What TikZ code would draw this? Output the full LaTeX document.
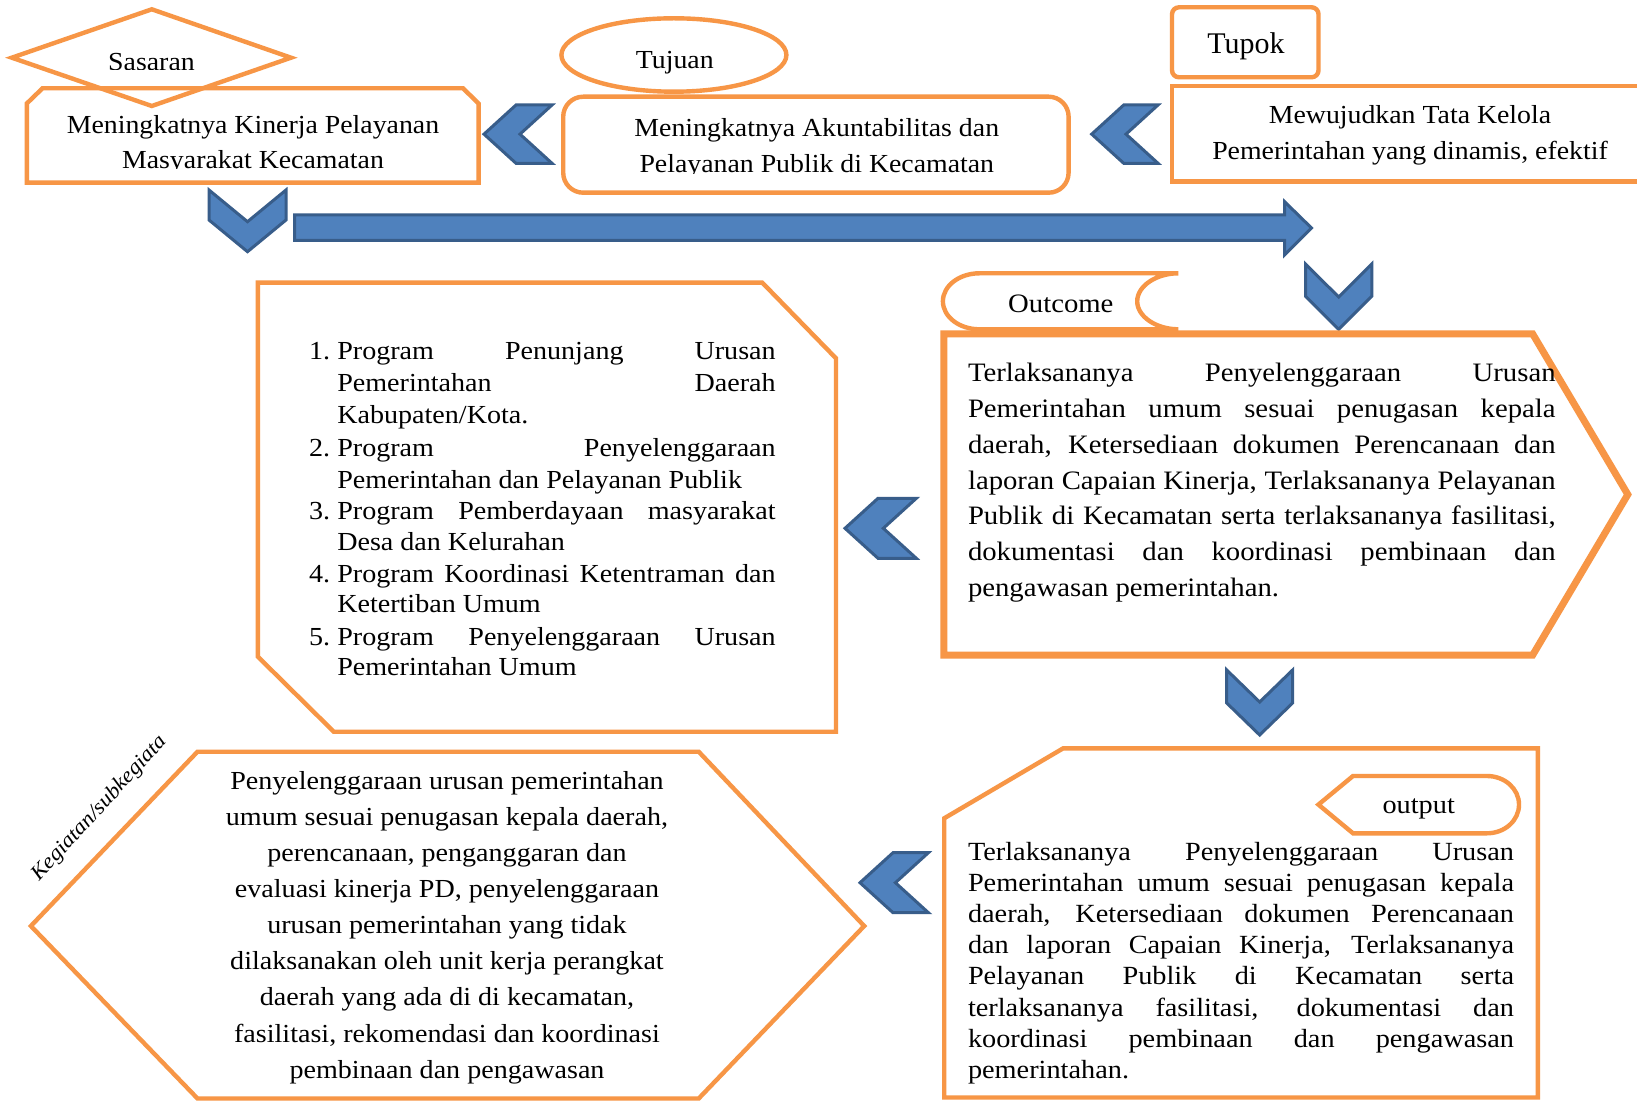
\documentclass[tikz,border=0pt]{standalone}
\usepackage{fontspec}
\setmainfont{Liberation Serif}
\newfontfamily\fTopF[FakeStretch=1.07]{Liberation Serif}
\newfontfamily\fLowF[FakeStretch=1.08]{Liberation Serif}
\newcommand\sTop{\fTopF\fontsize{13}{15}\selectfont}
\newcommand\sTup{\fontsize{15}{18}\selectfont}
\newcommand\sProg{\fLowF\fontsize{13}{15}\selectfont}
\newcommand\sOut{\fLowF\fontsize{13.3}{16}\selectfont}
\newcommand\sOp{\fLowF\fontsize{13.1}{16}\selectfont}
\newcommand\sHex{\fLowF\fontsize{13}{16}\selectfont}
\newcommand\sRot{\fLowF\itshape\fontsize{10.6}{12}\selectfont}
\definecolor{org}{HTML}{F79646}
\definecolor{bfill}{HTML}{4F81BD}
\definecolor{bline}{HTML}{385D8A}
\newcommand\jlin[5]{\node[txt,anchor=base west] (#1) at (#2,#3) {\makebox[#4][s]{#5}};}
\newcommand\plin[4]{\node[txt,anchor=base west] (#1) at (#2,#3) {#4};}
\newcommand\mychevL[5]{\draw[chev] (#1,{(#2+#4)/2}) -- ({#1+#5},#2) -- (#3,#2) -- ({#3-#5},{(#2+#4)/2}) -- (#3,#4) -- ({#1+#5},#4) -- cycle;}
\newcommand\mychevD[5]{\draw[chev] (#1,#2) -- ({(#1+#3)/2},{#2+#5}) -- (#3,#2) -- (#3,{#4-#5}) -- ({(#1+#3)/2},#4) -- (#1,{#4-#5}) -- cycle;}
\begin{document}
\begin{tikzpicture}[x=0.5pt,y=-0.5pt,
  obox/.style={draw=org,line width=2.2pt,line join=miter},
  chev/.style={fill=bfill,draw=bline,line width=1.5pt,line join=miter},
  txt/.style={inner sep=0pt,outer sep=0pt,text=black}]
\clip (0,0) rectangle (1637,1101);
\fill[white] (0,0) rectangle (1637,1101);

% ---------- top row shapes ----------
\draw[obox] (26.8,103.5) -- (42.5,88.3) -- (463,88.3) -- (478.6,103.5) -- (478.6,182.7) -- (26.8,182.7) -- cycle;
\draw[obox] (11.8,57.7) -- (151.8,9.3) -- (291,57.7) -- (151.8,106) -- cycle;
\draw[obox] (673.9,55) ellipse [x radius=56.25pt, y radius=18.35pt];
\draw[obox,rounded corners=10pt] (563.2,96.7) rectangle (1068.6,192.7);
\draw[obox,rounded corners=3.5pt] (1172,7.3) rectangle (1318.5,77.3);
\draw[obox] (1172,86) rectangle (1660,181.7);

% chevrons
\mychevL{484}{105}{552}{163.3}{32}
\mychevL{1091.7}{105}{1158}{163.3}{32}
\mychevD{209}{190}{286}{251.7}{31.7}
\mychevD{1305.5}{264}{1371.8}{329.3}{33}
\mychevL{845}{498.3}{916.3}{558.3}{33}
\mychevD{1226.7}{670}{1292.6}{735}{32}
\mychevL{860}{852.7}{928.4}{912.7}{33}

% big arrow
\draw[chev] (294.6,215) -- (1284.6,215) -- (1284.6,201.7) -- (1311.5,228) -- (1284.6,255) -- (1284.6,240.5) -- (294.6,240.5) -- cycle;

% ---------- middle shapes ----------
\draw[obox] (257.9,282.7) -- (762.3,282.7) -- (836,358.3) -- (836,731.7) -- (333.75,731.7) -- (257.9,656.7) -- cycle;
\draw[obox] (979.4,273.3) -- (1178.3,273.3)
  .. controls (1156.6,273.3) and (1137.2,285.8) .. (1137.2,301.3)
  .. controls (1137.2,316.8) and (1156.6,329.3) .. (1178.3,329.3)
  -- (979.4,329.3)
  .. controls (959.3,329.3) and (942.9,316.8) .. (942.9,301.3)
  .. controls (942.9,285.8) and (959.3,273.3) .. (979.4,273.3) -- cycle;
\draw[obox,line width=3.5pt] (943.8,334) -- (1532.7,334) -- (1627.8,494.5) -- (1532.7,655) -- (943.8,655) -- cycle;

% ---------- bottom shapes ----------
\draw[obox] (30.9,926) -- (197.5,751.7) -- (698.7,751.7) -- (864.2,926) -- (698.7,1098.5) -- (197.5,1098.5) -- cycle;
\draw[obox] (944.2,818.3) -- (1063.2,748.3) -- (1537.9,748.3) -- (1537.9,1097.5) -- (944.2,1097.5) -- cycle;
\draw[obox] (1318.4,804.6) -- (1353,776) -- (1486.9,776)
  .. controls (1504.8,776) and (1519,788.8) .. (1519,804.6)
  .. controls (1519,820.5) and (1504.8,833.3) .. (1486.9,833.3)
  -- (1353,833.3) -- cycle;

% ---------- top texts ----------
\begin{scope}[font=\sTop]
\begin{scope}
\clip (90,20) rectangle (215,70);
\node[txt,anchor=base] (sasaran) at (151.5,71) {Sasaran};
\end{scope}
\node[txt,anchor=base] (k1) at (253,133.3) {Meningkatnya Kinerja Pelayanan};
\begin{scope}
\clip (30,140) rectangle (475,168.8);
\node[txt,anchor=base] (k2) at (253,168.3) {Masyarakat Kecamatan};
\end{scope}
\node[txt,anchor=base] (tujuan) at (674.8,68.3) {Tujuan};
\node[txt,anchor=base] (a1) at (816.8,136.7) {Meningkatnya Akuntabilitas dan};
\begin{scope}
\clip (570,145) rectangle (1060,173.2);
\node[txt,anchor=base] (a2) at (816.8,172.7) {Pelayanan Publik di Kecamatan};
\end{scope}
\node[txt,anchor=base] (m1) at (1410,123.3) {Mewujudkan Tata Kelola};
\node[txt,anchor=base] (m2) at (1410,159.3) {Pemerintahan yang dinamis, efektif};
\end{scope}
\node[txt,anchor=base,font=\sTup] (tupok) at (1246,53.3) {Tupok};

% ---------- program list ----------
\begin{scope}[font=\sProg]
\plin{n1}{309}{360}{1.}
\jlin{p1}{337.3}{360}{219.2pt}{Program Penunjang Urusan}
\jlin{p2}{337.3}{391.7}{219.2pt}{Pemerintahan Daerah}
\plin{p3}{337.3}{423.3}{Kabupaten/Kota.}
\plin{n2}{309}{456.7}{2.}
\jlin{p4}{337.3}{456.7}{219.2pt}{Program Penyelenggaraan}
\plin{p5}{337.3}{488.3}{Pemerintahan dan Pelayanan Publik}
\plin{n3}{309}{519.3}{3.}
\jlin{p6}{337.3}{519.3}{219.2pt}{Program Pemberdayaan masyarakat}
\plin{p7}{337.3}{550}{Desa dan Kelurahan}
\plin{n4}{309}{582.7}{4.}
\jlin{p8}{337.3}{582.7}{219.2pt}{Program Koordinasi Ketentraman dan}
\plin{p9}{337.3}{612.7}{Ketertiban Umum}
\plin{n5}{309}{645}{5.}
\jlin{p10}{337.3}{645}{219.2pt}{Program Penyelenggaraan Urusan}
\plin{p11}{337.3}{675}{Pemerintahan Umum}
\end{scope}

% ---------- outcome ----------
\begin{scope}[font=\sOut]
\node[txt,anchor=base] (outcome) at (1060.8,312.7) {Outcome};
\jlin{o1}{968}{381.7}{293.8pt}{Terlaksananya Penyelenggaraan Urusan}
\jlin{o2}{968}{417.5}{293.8pt}{Pemerintahan umum sesuai penugasan kepala}
\jlin{o3}{968}{453.3}{293.8pt}{daerah, Ketersediaan dokumen Perencanaan dan}
\jlin{o4}{968}{489.1}{293.8pt}{laporan Capaian Kinerja, Terlaksananya Pelayanan}
\jlin{o5}{968}{524.9}{293.8pt}{Publik di Kecamatan serta terlaksananya fasilitasi,}
\jlin{o6}{968}{560.7}{293.8pt}{dokumentasi dan koordinasi pembinaan dan}
\plin{o7}{968}{596.5}{pengawasan pemerintahan.}
\end{scope}

% ---------- output ----------
\begin{scope}[font=\sOp]
\node[txt,anchor=base] (output) at (1418.7,813.3) {output};
\jlin{q1}{968}{860}{273pt}{Terlaksananya Penyelenggaraan Urusan}
\jlin{q2}{968}{891.2}{273pt}{Pemerintahan umum sesuai penugasan kepala}
\jlin{q3}{968}{922.4}{273pt}{daerah, Ketersediaan dokumen Perencanaan}
\jlin{q4}{968}{953.6}{273pt}{dan laporan Capaian Kinerja, Terlaksananya}
\jlin{q5}{968}{984.8}{273pt}{Pelayanan Publik di Kecamatan serta}
\jlin{q6}{968}{1016}{273pt}{terlaksananya fasilitasi, dokumentasi dan}
\jlin{q7}{968}{1047.2}{273pt}{koordinasi pembinaan dan pengawasan}
\plin{q8}{968}{1078.4}{pemerintahan.}
\end{scope}

% ---------- kegiatan hexagon ----------
\foreach \t [count=\i] in {{Penyelenggaraan urusan pemerintahan},{umum sesuai penugasan kepala daerah,},{perencanaan, penganggaran dan},{evaluasi kinerja PD, penyelenggaraan},{urusan pemerintahan yang tidak},{dilaksanakan oleh unit kerja perangkat},{daerah yang ada di di kecamatan,},{fasilitasi, rekomendasi dan koordinasi},{pembinaan dan pengawasan}}
  \node[txt,anchor=base,font=\sHex] (h\i) at (447,{789.3+(\i-1)*36.1}) {\t};
\node[txt,font=\sRot,rotate=47.4] (keg) at (99.6,808.3) {Kegiatan/subkegiata};
\end{tikzpicture}
\end{document}
